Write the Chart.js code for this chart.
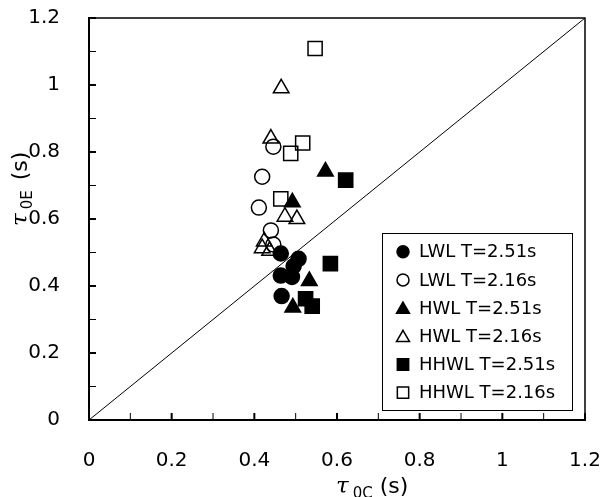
<!DOCTYPE html>
<html>
<head>
<meta charset="utf-8">
<script src="https://cdn.jsdelivr.net/npm/chart.js@4.4.0/dist/chart.umd.min.js"></script>
<style>
  html, body { margin: 0; padding: 0; background: #fff; }
</style>
</head>
<body>
<canvas id="chart" width="605" height="497"></canvas>
<script>
// series names (legend)
const seriesNames = ["LWL T=2.51s", "LWL T=2.16s", "HWL T=2.51s", "HWL T=2.16s", "HHWL T=2.51s", "HHWL T=2.16s"];

// tau_0C (x) and tau_0E (y)
const lwl251X = [0.464, 0.507, 0.495, 0.464, 0.491, 0.466];
const lwl251Y = [0.497, 0.481, 0.459, 0.431, 0.427, 0.370];
const lwl216X = [0.446, 0.419, 0.411, 0.440, 0.446];
const lwl216Y = [0.816, 0.726, 0.634, 0.566, 0.524];
const hwl251X = [0.572, 0.492, 0.533, 0.493];
const hwl251Y = [0.742, 0.650, 0.415, 0.336];
const hwl216X = [0.465, 0.440, 0.474, 0.503, 0.424, 0.419, 0.437];
const hwl216Y = [0.990, 0.840, 0.607, 0.600, 0.533, 0.513, 0.505];
const hhwl251X = [0.621, 0.584, 0.524, 0.540];
const hhwl251Y = [0.716, 0.467, 0.362, 0.340];
const hhwl216X = [0.547, 0.517, 0.488, 0.464];
const hhwl216Y = [1.109, 0.827, 0.796, 0.660];

// 1:1 line
const diagX = [0, 1.2];
const diagY = [0, 1.2];

const axisMin = 0, axisMax = 1.2, majorStep = 0.2, minorStep = 0.1;

function pts(xs, ys) {
  return xs.map((x, i) => ({ x: x, y: ys[i] }));
}

const markerStyles = ["circle", "circle", "triangle", "triangle", "rect", "rect"];
const markerFilled = [true, false, true, false, true, false];
const markerRadius = [7.5, 7.5, 9, 9, 10, 10];
const allX = [lwl251X, lwl216X, hwl251X, hwl216X, hhwl251X, hhwl216X];
const allY = [lwl251Y, lwl216Y, hwl251Y, hwl216Y, hhwl251Y, hhwl216Y];

const datasets = seriesNames.map((name, i) => ({
  label: name,
  data: pts(allX[i], allY[i]),
  pointStyle: markerStyles[i],
  pointRadius: markerRadius[i],
  pointHoverRadius: markerRadius[i],
  backgroundColor: markerFilled[i] ? "#000" : "rgba(0,0,0,0)",
  borderColor: "#000",
  borderWidth: 1.5,
  order: 10 - i
}));

datasets.push({
  label: "1:1",
  data: pts(diagX, diagY),
  showLine: true,
  pointRadius: 0,
  borderColor: "#000",
  borderWidth: 1,
  order: 0
});

function drawMarker(ctx, style, x, y, r, filled) {
  ctx.beginPath();
  if (style === "circle") {
    ctx.arc(x, y, r, 0, Math.PI * 2);
  } else if (style === "triangle") {
    ctx.moveTo(x, y - r);
    ctx.lineTo(x + r * 0.866, y + r / 2);
    ctx.lineTo(x - r * 0.866, y + r / 2);
    ctx.closePath();
  } else {
    const s = r * Math.SQRT1_2;
    ctx.rect(x - s, y - s, 2 * s, 2 * s);
  }
  if (filled) { ctx.fillStyle = "#000"; ctx.fill(); }
  ctx.lineWidth = 1.5;
  ctx.strokeStyle = "#000";
  ctx.stroke();
}

const decorPlugin = {
  id: "decor",
  afterDatasetsDraw(chart) {
    const ctx = chart.ctx;
    const a = chart.chartArea;
    const xs = chart.scales.x, ys = chart.scales.y;
    ctx.save();
    // top and right frame
    ctx.strokeStyle = "#000";
    ctx.lineWidth = 1.5;
    ctx.beginPath();
    ctx.moveTo(a.left, a.top);
    ctx.lineTo(a.right, a.top);
    ctx.lineTo(a.right, a.bottom);
    ctx.stroke();

    // inward ticks
    for (let k = 0; k <= 12; k++) {
      const v = k * minorStep;
      const major = k % 2 === 0;
      const len = 7;
      ctx.lineWidth = major ? 2 : 1;
      const px = xs.getPixelForValue(v);
      const py = ys.getPixelForValue(v);
      ctx.beginPath();
      ctx.moveTo(px, a.bottom);
      ctx.lineTo(px, a.bottom - len);
      ctx.moveTo(a.left, py);
      ctx.lineTo(a.left + len, py);
      ctx.stroke();
    }

    // legend
    const lx = 382, ly = 233, lw = 190, lh = 177;
    ctx.fillStyle = "#fff";
    ctx.fillRect(lx, ly, lw, lh);
    ctx.lineWidth = 1;
    ctx.strokeRect(lx + 0.5, ly + 0.5, lw, lh);
    ctx.font = "18px 'DejaVu Sans'";
    ctx.textBaseline = "middle";
    ctx.textAlign = "left";
    seriesNames.forEach((name, i) => {
      const ry = 251.7 + i * 28.2;
      const r = markerStyles[i] === "rect" ? 8 : (markerStyles[i] === "triangle" ? 7.5 : 6);
      drawMarker(ctx, markerStyles[i], 403, ry + (markerStyles[i] === "triangle" ? 1.5 : 0), r, markerFilled[i]);
      ctx.fillStyle = "#000";
      ctx.fillText(name, 419, ry + 1);
    });

    // axis titles with subscripts
    ctx.fillStyle = "#000";
    ctx.textBaseline = "alphabetic";
    // x title
    drawTitle(ctx, "0C", 336, 493, 7);
    // y title (rotated)
    ctx.translate(27, 226);
    ctx.rotate(-Math.PI / 2);
    drawTitle(ctx, "0E", 0, 0, 10);
    ctx.restore();
  }
};

function drawTitle(ctx, sub, x, y, gap) {
  ctx.font = "italic 23px 'DejaVu Serif'";
  ctx.fillText("\u03c4", x, y);
  let w = ctx.measureText("\u03c4").width + 4;
  ctx.font = "15px 'DejaVu Sans'";
  ctx.fillText(sub, x + w, y + 5);
  w += ctx.measureText(sub).width + gap;
  ctx.font = "22px 'DejaVu Sans'";
  ctx.fillText("(s)", x + w, y);
}

new Chart(document.getElementById("chart"), {
  type: "scatter",
  data: { datasets: datasets },
  options: {
    responsive: false,
    animation: false,
    layout: { padding: { top: 18, right: 20, left: 0, bottom: 0 } },
    plugins: { legend: { display: false }, tooltip: { enabled: false } },
    scales: {
      x: {
        type: "linear",
        min: axisMin, max: axisMax,
        afterFit: s => { s.height = 77; s.paddingLeft = 0; s.paddingRight = 0; },
        grid: { display: false },
        border: { display: true, color: "#000", width: 2 },
        ticks: {
          stepSize: majorStep,
          padding: 21,
          color: "#000",
          font: { family: "'DejaVu Sans'", size: 20 },
          callback: v => String(+v.toFixed(1))
        }
      },
      y: {
        type: "linear",
        min: axisMin, max: axisMax,
        afterFit: s => { s.width = 89; s.paddingTop = 0; s.paddingBottom = 0; },
        grid: { display: false },
        border: { display: true, color: "#000", width: 2 },
        ticks: {
          stepSize: majorStep,
          padding: 21,
          color: "#000",
          font: { family: "'DejaVu Sans'", size: 20 },
          callback: v => String(+v.toFixed(1))
        }
      }
    }
  },
  plugins: [decorPlugin]
});
</script>
</body>
</html>
